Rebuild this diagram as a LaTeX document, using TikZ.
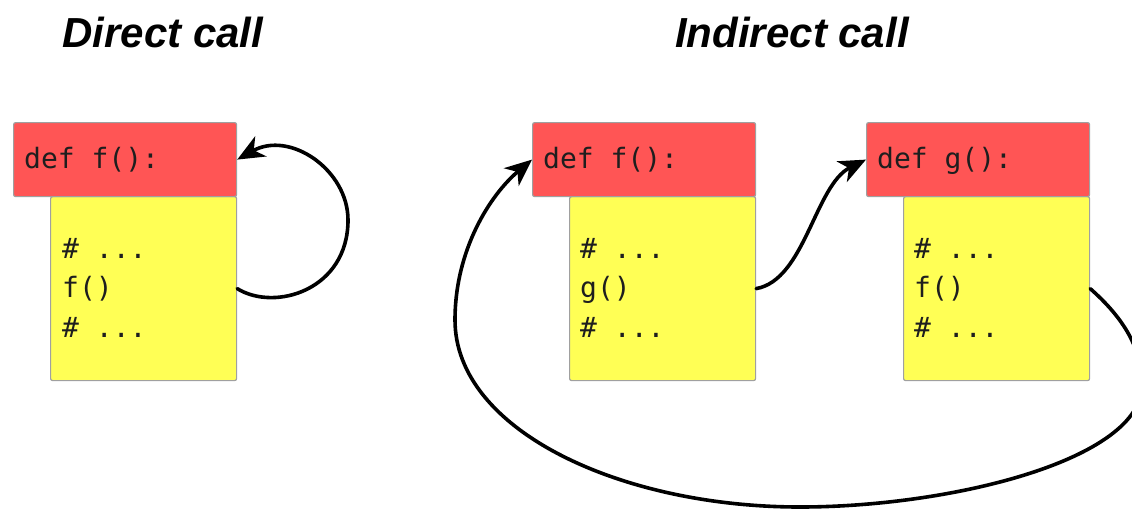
\documentclass[tikz,border=0pt]{standalone}
\usepackage{fontspec}
\setmainfont{Liberation Sans}
\newfontfamily\codefont{DejaVu Sans Mono}
\usetikzlibrary{arrows.meta}
\definecolor{hdrred}{RGB}{255,85,85}
\definecolor{bodyyellow}{RGB}{255,255,85}
\definecolor{boxedge}{RGB}{160,160,160}
\definecolor{codeink}{RGB}{30,30,30}
\begin{document}
\begin{tikzpicture}[x=1pt,y=-1pt,
  box/.style={draw=boxedge, line width=1.2pt, rounded corners=2pt, inner sep=0pt, anchor=north west},
  header/.style={box, fill=hdrred, minimum width=223pt, minimum height=74pt},
  body/.style={box, fill=bodyyellow, minimum width=186pt, minimum height=184pt},
  code/.style={font=\codefont\fontsize{28}{32}\selectfont, text=codeink, anchor=base west, inner sep=0pt},
  title/.style={font=\bfseries\itshape\fontsize{42}{50}\selectfont, anchor=base, inner sep=0pt},
  callarrow/.style={line width=3.6pt, line cap=round, -{Stealth[length=27pt,width=23pt,inset=8pt]}}]
\useasboundingbox (0,0) rectangle (1132,509);
\clip (0,0) rectangle (1132,509);

% titles
\node[title] (tdirect) at (163,47) {Direct call};
\node[title] (tindirect) at (792,47) {Indirect call};

% function f (direct recursion)
\node[body] (b1) at (50,196) {};
\node[header] (h1) at (13,122) {};
\node[code] (h1txt) at (24,168) {def f():};
\node[code] (b1l1) at (62,258) {\# ...};
\node[code] (b1l2) at (62,297.5) {f()};
\node[code] (b1l3) at (62,337) {\# ...};

% function f (indirect recursion)
\node[body] (b2) at (569,196) {};
\node[header] (h2) at (532,122) {};
\node[code] (h2txt) at (543,168) {def f():};
\node[code] (b2l1) at (580,258) {\# ...};
\node[code] (b2l2) at (580,297.5) {g()};
\node[code] (b2l3) at (580,337) {\# ...};

% function g
\node[body] (b3) at (903,196) {};
\node[header] (h3) at (866,122) {};
\node[code] (h3txt) at (877,168) {def g():};
\node[code] (b3l1) at (914,258) {\# ...};
\node[code] (b3l2) at (914,297.5) {f()};
\node[code] (b3l3) at (914,337) {\# ...};

% calls
\draw[callarrow] (b1.east) .. controls (275,312) and (348,290) .. (348,220)
  .. controls (348,170) and (290,130) .. (h1.east);
\draw[callarrow] (b2.east) .. controls (805,280) and (815,185) .. (h3.west);
\draw[callarrow] (b3.east) .. controls (1120,315) and (1142,345) .. (1142,385)
  .. controls (1142,460) and (950,507) .. (800,507)
  .. controls (620,507) and (455,430) .. (455,320)
  .. controls (455,250) and (490,195) .. (h2.west);
\end{tikzpicture}
\end{document}
